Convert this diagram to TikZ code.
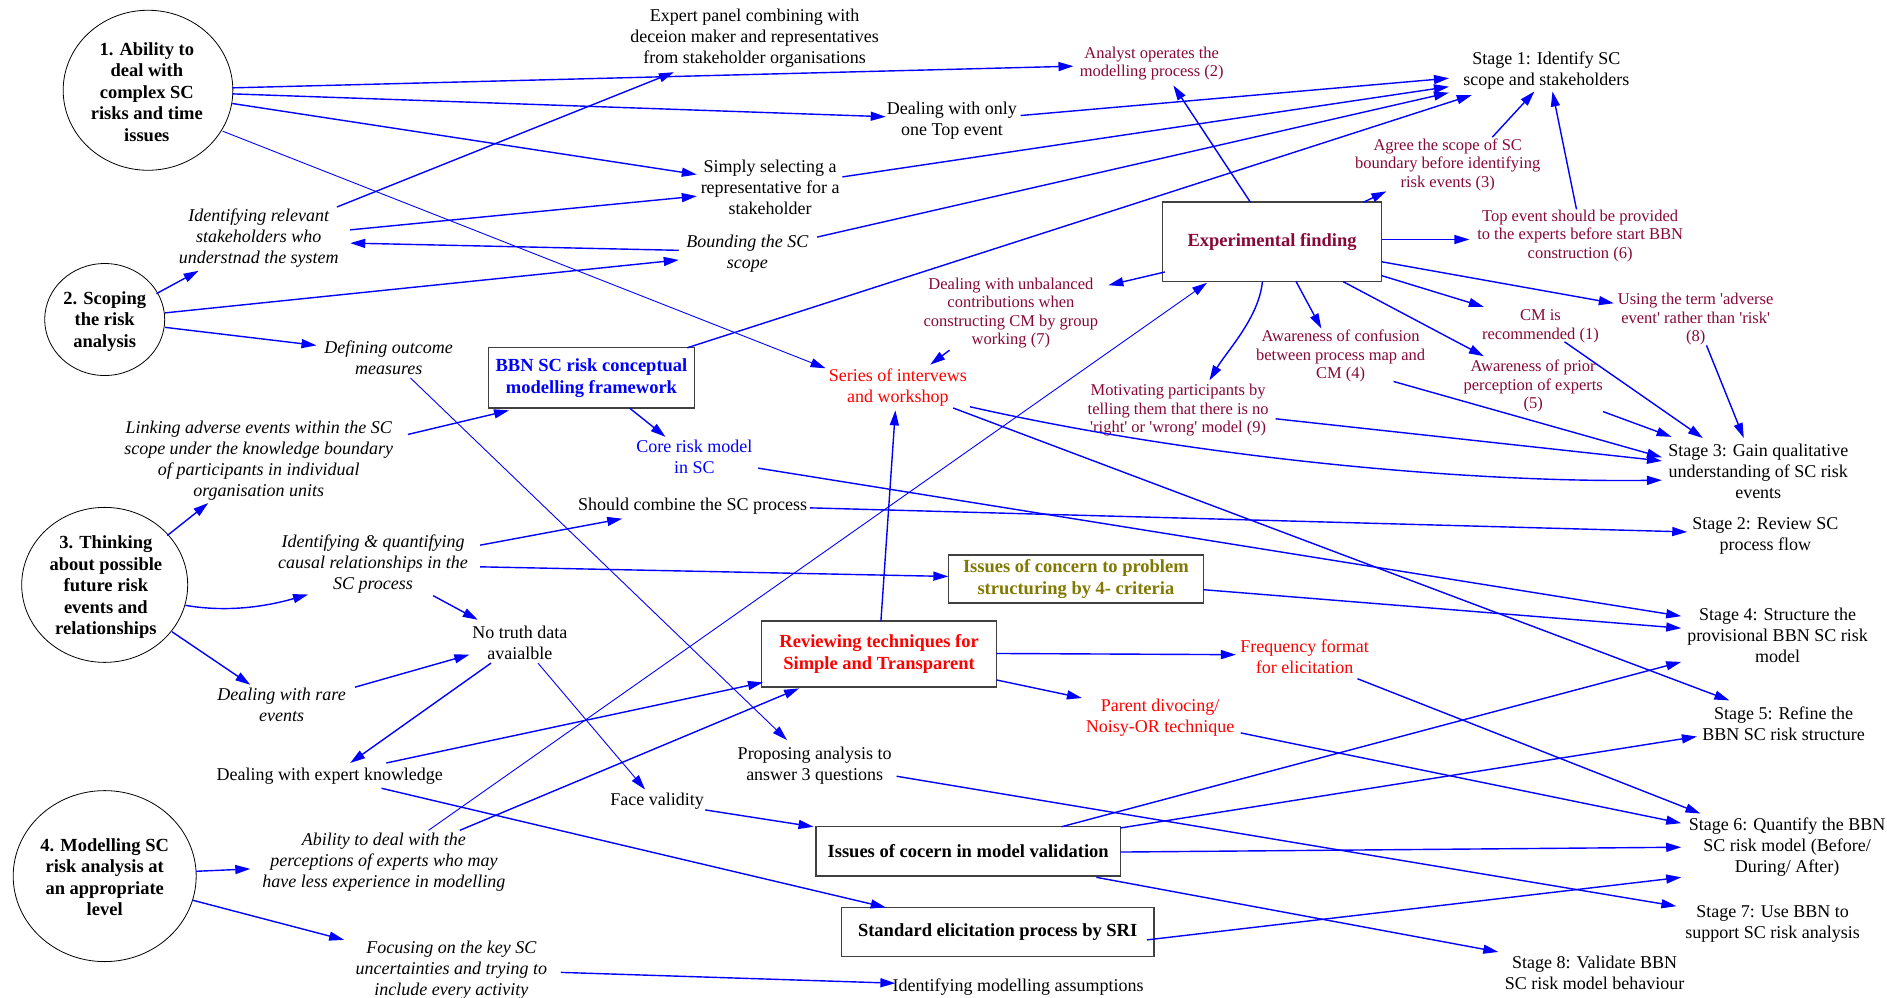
\documentclass[tikz,border=0pt]{standalone}
\usepackage{fontspec}
\setmainfont{Liberation Serif}
\usetikzlibrary{arrows.meta,calc,shapes.geometric}
\definecolor{linkblue}{RGB}{0,0,255}
\definecolor{findred}{RGB}{135,8,55}
\definecolor{hotred}{RGB}{255,0,0}
\definecolor{olivetext}{RGB}{128,120,0}

\begin{document}
\begin{tikzpicture}[x=1.2035pt,y=-1.2035pt,
  txt/.style={inner sep=0pt, align=center, font=\fontsize{18}{21}\selectfont},
  itx/.style={inner sep=0pt, align=center, font=\fontsize{18}{21}\selectfont\itshape},
  fnd/.style={inner sep=0pt, align=center, text=findred, font=\fontsize{16.5}{18.5}\selectfont},
  hot/.style={txt, text=hotred},
  blu/.style={txt, text=linkblue},
  goal/.style={draw, ellipse, line width=0.8pt, inner sep=0pt},
  goaltext/.style={inner sep=0pt, align=center, font=\fontsize{18.5}{21.5}\selectfont\bfseries},
  panel/.style={draw=black!75, line width=1.4pt, inner sep=0pt, align=center, font=\fontsize{18.5}{21.5}\selectfont\bfseries},
  arr/.style={draw=linkblue, line width=1.4pt, -{Triangle[length=15pt,width=9pt]}},
  slim/.style={line width=0.9pt},
]
\useasboundingbox (0,0) rectangle (1568,829);

% --- four capability ellipses ---
\node[goal, minimum width=169.7pt, minimum height=160pt] (e1) at (123,75) {};
\node[goaltext] (e1t) at (122,76.5) {1. Ability to\\deal with\\complex SC\\risks and time\\issues};
\node[goal, minimum width=120pt, minimum height=112pt] (e2) at (87,265.5) {};
\node[goaltext] (e2t) at (87,267) {2. Scoping\\the risk\\analysis};
\node[goal, minimum width=166pt, minimum height=155pt] (e3) at (87,486) {};
\node[goaltext] (e3t) at (88,488) {3. Thinking\\about possible\\future risk\\events and\\relationships};
\node[goal, minimum width=183pt, minimum height=171pt] (e4) at (87,728) {};
\node[goaltext] (e4t) at (87,729) {4. Modelling SC\\risk analysis at\\an appropriate\\level};

% --- text items ---
\node[txt] (expert) at (627,32) {Expert panel combining with\\deceion maker and representatives\\from stakeholder organisations};
\node[fnd] (analyst) at (957,53) {Analyst operates the\\modelling process (2)};
\node[txt] (stage1) at (1285,58.5) {Stage 1: Identify SC\\scope and stakeholders};
\node[txt] (toponly) at (791,100) {Dealing with only\\one Top event};
\node[fnd] (agree) at (1203,137) {Agree the scope of SC\\boundary before identifying\\risk events (3)};
\node[txt] (simply) at (640,156) {Simply selecting a\\representative for a\\stakeholder};
\node[itx] (idrel) at (215,198) {Identifying relevant\\stakeholders who\\understnad the system};
\node[itx] (bound) at (621,210.5) {Bounding the SC\\scope};
\node[panel, text=findred, minimum width=219pt, minimum height=79.4pt] (expf) at (1057,201) {Experimental finding};
\node[fnd] (topev) at (1313,196) {Top event should be provided\\to the experts before start BBN\\construction (6)};
\node[fnd] (unbal) at (840,260) {Dealing with unbalanced\\contributions when\\constructing CM by group\\working (7)};
\node[fnd] (adverse) at (1409,265.5) {Using the term \textquotesingle adverse\\event\textquotesingle{} rather than \textquotesingle risk\textquotesingle\\(8)};
\node[fnd] (cmrec) at (1280,271) {CM is\\recommended (1)};
\node[fnd] (confus) at (1114,296) {Awareness of confusion\\between process map and\\CM (4)};
\node[fnd] (prior) at (1274,321) {Awareness of prior\\perception of experts\\(5)};
\node[fnd] (motiv) at (979,341) {Motivating participants by\\telling them that there is no\\\textquotesingle right\textquotesingle{} or \textquotesingle wrong\textquotesingle{} model (9)};
\node[itx] (defout) at (323,297) {Defining outcome\\measures};
\node[panel, text=linkblue, minimum width=205.8pt, minimum height=60.2pt] (bbn) at (491.5,314) {BBN SC risk conceptual\\modelling framework};
\node[hot] (series) at (746,322) {Series of intervews\\and workshop};
\node[itx] (linking) at (215,383) {Linking adverse events within the SC\\scope under the knowledge boundary\\of participants in individual\\organisation units};
\node[blu] (core) at (577,380) {Core risk model\\in SC};
\node[txt] (stage3) at (1461,392) {Stage 3: Gain qualitative\\understanding of SC risk\\events};
\node[txt] (should) at (575.5,421) {Should combine the SC process};
\node[txt] (stage2) at (1467,445) {Stage 2: Review SC\\process flow};
\node[itx] (identq) at (310,469) {Identifying \& quantifying\\causal relationships in the\\SC process};
\node[panel, text=olivetext, minimum width=255pt, minimum height=48.1pt] (iss4) at (894,481) {Issues of concern to problem\\structuring by 4- criteria};
\node[txt] (stage4) at (1477,528) {Stage 4: Structure the\\provisional BBN SC risk\\model};
\node[txt] (notruth) at (432,534) {No truth data\\avaialble};
\node[panel, text=hotred, minimum width=234.7pt, minimum height=66.2pt] (review) at (730.5,543.5) {Reviewing techniques for\\Simple and Transparent};
\node[hot] (freq) at (1084,546) {Frequency format\\for elicitation};
\node[itx] (rare) at (234,586) {Dealing with rare\\events};
\node[hot] (parent) at (964,596) {Parent divocing/\\Noisy-OR technique};
\node[txt] (stage5) at (1482,601) {Stage 5: Refine the\\BBN SC risk structure};
\node[txt] (dexp) at (274,645) {Dealing with expert knowledge};
\node[txt] (propose) at (677,636) {Proposing analysis to\\answer 3 questions};
\node[txt] (face) at (546,666) {Face validity};
\node[txt] (stage6) at (1485,704) {Stage 6: Quantify the BBN\\SC risk model (Before/\\During/ After)};
\node[itx] (ability) at (319,716) {Ability to deal with the\\perceptions of experts who may\\have less experience in modelling};
\node[panel, minimum width=304.5pt, minimum height=49.3pt] (valid) at (804.5,707.5) {Issues of cocern in model validation};
\node[txt] (stage7) at (1473,768) {Stage 7: Use BBN to\\support SC risk analysis};
\node[panel, minimum width=312.9pt, minimum height=49.3pt] (sri) at (829,774.5) {Standard elicitation process by SRI};
\node[txt] (stage8) at (1325,808) {Stage 8: Validate BBN\\SC risk model behaviour};
\node[itx] (focus) at (375,806) {Focusing on the key SC\\uncertainties and trying to\\include every activity};
\node[txt] (assump) at (846,820) {Identifying modelling assumptions};

% --- connectors ---
\draw[arr] ($(e1.center)+(70,-2)$) -- ($(analyst.center)+(-65,2)$);
\draw[arr] ($(e1.center)+(70,3)$) -- ($(toponly.center)+(-55,-3)$);
\draw[arr] ($(e1.center)+(70,11)$) -- ($(simply.center)+(-61,-11)$);
\draw[arr,slim] ($(e1.center)+(62,34)$) -- ($(series.center)+(-60,-16)$);
\draw[arr] ($(toponly.center)+(57,-4)$) -- ($(stage1.center)+(-81,6.5)$);
\draw[arr] ($(simply.center)+(60,-9)$) -- ($(stage1.center)+(-81,13.5)$);
\draw[arr] ($(bound.center)+(58,-13.5)$) -- ($(stage1.center)+(-81,18.5)$);
\draw[arr] ($(bbn.center)+(79.5,-25)$) -- ($(stage1.center)+(-62,20.5)$);
\draw[arr] ($(e2.center)+(43,-21.5)$) -- ($(idrel.center)+(-50,27)$);
\draw[arr] ($(e2.center)+(50,-5.5)$) -- ($(bound.center)+(-57,5.5)$);
\draw[arr] ($(e2.center)+(50,6.5)$) -- ($(defout.center)+(-60,-10)$);
\draw[arr] ($(idrel.center)+(65,-26)$) -- ($(expert.center)+(-67,28)$);
\draw[arr] ($(idrel.center)+(76,-7)$) -- ($(simply.center)+(-61,7)$);
\draw[arr] ($(bound.center)+(-57,-2.5)$) -- ($(idrel.center)+(76,4)$);
\draw[arr,slim] ($(defout.center)+(18,17)$) -- ($(propose.center)+(-23,-21)$);
\draw[arr] ($(linking.center)+(124,-22)$) -- ($(bbn.center)+(-68.5,27)$);
\draw[arr] ($(e3.center)+(52,-41)$) -- ($(linking.center)+(-42,35)$);
\draw[arr] ($(e3.center)+(67,17)$) .. controls +(35,6) and +(-35,10) .. ($(identq.center)+(-54,25)$);
\draw[arr] ($(e3.center)+(56,39)$) -- ($(rare.center)+(-26,-17)$);
\draw[arr] ($(identq.center)+(89,-16)$) -- ($(should.center)+(-58.5,10)$);
\draw[arr] ($(identq.center)+(89,2)$) -- ($(iss4.center)+(-106,-2)$);
\draw[arr] ($(identq.center)+(50,26)$) -- ($(notruth.center)+(-35,-19)$);
\draw[arr] ($(rare.center)+(61,-15)$) -- ($(notruth.center)+(-42,10)$);
\draw[arr] ($(notruth.center)+(-24,17)$) -- ($(dexp.center)+(17,-11)$);
\draw[arr,slim] ($(notruth.center)+(15,17)$) -- ($(face.center)+(-10,-10)$);
\draw[arr] ($(dexp.center)+(47,-11)$) -- ($(review.center)+(-96.5,23.5)$);
\draw[arr] ($(dexp.center)+(43,10)$) -- ($(sri.center)+(-93,-20.5)$);
\draw[arr,slim] ($(ability.center)+(37,-26)$) -- ($(expf.center)+(-54,34)$);
\draw[arr] ($(ability.center)+(63,-26)$) -- ($(review.center)+(-66.5,28.5)$);
\draw[arr] ($(e4.center)+(76,-4)$) -- ($(ability.center)+(-111,6)$);
\draw[arr] ($(e4.center)+(73,20)$) -- ($(focus.center)+(-89,-25)$);
\draw[arr] ($(focus.center)+(91,2)$) -- ($(assump.center)+(-102,-3)$);
\draw[arr] ($(face.center)+(40,7)$) -- ($(valid.center)+(-128.5,-20.5)$);
\draw[arr] ($(review.center)+(1.5,-27.5)$) -- ($(series.center)+(-2,19)$);
\draw[arr] ($(review.center)+(97.5,-0.5)$) -- ($(freq.center)+(-57,-2)$);
\draw[arr] ($(review.center)+(97.5,21.5)$) -- ($(parent.center)+(-65,-16)$);
\draw[arr] ($(bbn.center)+(31.5,25)$) -- ($(core.center)+(-24,-17)$);
\draw[arr] ($(core.center)+(53,9)$) -- ($(stage4.center)+(-80,-16)$);
\draw[arr] ($(should.center)+(97.5,1)$) -- ($(stage2.center)+(-65,-3)$);
\draw[arr] ($(iss4.center)+(106,9)$) -- ($(stage4.center)+(-80,-6)$);
\draw[arr] ($(series.center)+(60,16)$) .. controls +(200,45) and +(-150,2) .. ($(stage3.center)+(-80,7)$);
\draw[arr] ($(series.center)+(46,17)$) -- ($(stage5.center)+(-45,-19)$);
\draw[arr] ($(unbal.center)+(-51,31)$) -- ($(series.center)+(27,-19)$);
\draw[arr] ($(expf.center)+(-89,25)$) -- ($(unbal.center)+(81,-23)$);
\draw[arr] ($(expf.center)+(-18,-33)$) -- ($(analyst.center)+(18,18)$);
\draw[arr] ($(expf.center)+(76,-33)$) -- ($(agree.center)+(-51,22)$);
\draw[arr] ($(expf.center)+(91,-2)$) -- ($(topev.center)+(-92,3)$);
\draw[arr] ($(expf.center)+(91,28)$) -- ($(cmrec.center)+(-47,-16)$);
\draw[arr] ($(expf.center)+(91,16.5)$) -- ($(adverse.center)+(-68,-13.5)$);
\draw[arr] ($(expf.center)+(59,33)$) -- ($(prior.center)+(-41,-25)$);
\draw[arr] ($(expf.center)+(20,33)$) -- ($(confus.center)+(-16,-23)$);
\draw[arr] ($(expf.center)+(-8,33)$) .. controls +(-3,30) and +(15,-25) .. ($(motiv.center)+(26,-25)$);
\draw[arr] ($(agree.center)+(37,-23)$) -- ($(stage1.center)+(-10,17.5)$);
\draw[arr] ($(topev.center)+(-3,-22)$) -- ($(stage1.center)+(5,17.5)$);
\draw[arr] ($(cmrec.center)+(20,13)$) -- ($(stage3.center)+(-46,-28)$);
\draw[arr] ($(adverse.center)+(9,21.5)$) -- ($(stage3.center)+(-12,-28)$);
\draw[arr] ($(prior.center)+(58,21)$) -- ($(stage3.center)+(-72,-29)$);
\draw[arr] ($(confus.center)+(44,21)$) -- ($(stage3.center)+(-80,-12)$);
\draw[arr] ($(motiv.center)+(81,7)$) -- ($(stage3.center)+(-80,-9)$);
\draw[arr] ($(valid.center)+(77.5,-20.5)$) -- ($(stage4.center)+(-80,22)$);
\draw[arr] ($(valid.center)+(126.5,-19.5)$) -- ($(stage5.center)+(-72,11)$);
\draw[arr] ($(valid.center)+(126.5,0.5)$) -- ($(stage6.center)+(-88,0)$);
\draw[arr] ($(valid.center)+(106.5,21.5)$) -- ($(stage8.center)+(-80,-17)$);
\draw[arr] ($(sri.center)+(124,6.5)$) -- ($(stage6.center)+(-88,25)$);
\draw[arr] ($(propose.center)+(68,9)$) -- ($(stage7.center)+(-80,-15)$);
\draw[arr] ($(parent.center)+(67,13)$) -- ($(stage6.center)+(-88,-20)$);
\draw[arr] ($(freq.center)+(44,18)$) -- ($(stage6.center)+(-72,-28)$);
\end{tikzpicture}
\end{document}
